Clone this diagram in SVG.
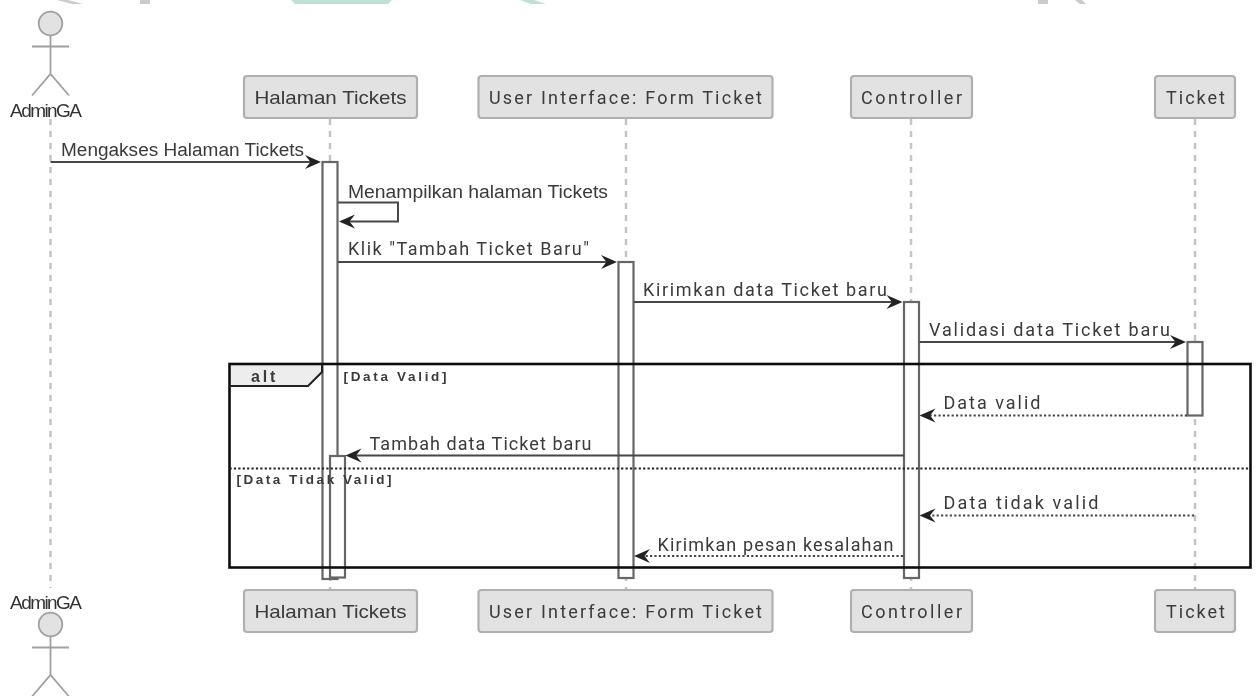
<svg xmlns="http://www.w3.org/2000/svg" width="1257" height="696" viewBox="0 0 1257 696">
<style>
text{font-family:"Liberation Sans",Arial,sans-serif;fill:#3a3a3a}
.box{fill:#e2e2e2;stroke:#b0b0b0;stroke-width:2.200}
.n{font-size:19px}
.s{font-family:Roboto,"Liberation Sans",sans-serif;font-size:18px}
.g{font-size:13.500px;font-weight:700}
.ll{stroke:#c4c4c4;stroke-width:2.500;stroke-dasharray:6 6;fill:none}
.act{fill:#fff;stroke:#666;stroke-width:2.200}
.a{stroke:#474747;stroke-width:2;fill:none}
.d{stroke-dasharray:2.200 2.200}
.ah{fill:#222;stroke:none}
.an{fill:#e2e2e2;stroke:#a0a0a0;stroke-width:1.800}
.st{fill:none;stroke:#a0a0a0;stroke-width:1.800}
.al{font-size:19px;fill:#333}
</style>
<defs>
<path id="r" class="ah" d="M0 0L-16 -7L-10.500 0L-16 7Z"/>
<path id="l" class="ah" d="M0 0L16 -7L10.500 0L16 7Z"/>
<filter id="soft" x="-2%" y="-2%" width="104%" height="104%"><feGaussianBlur stdDeviation="0.45"/></filter>
</defs>
<g id="watermark">
<polygon points="57,0 68,0 83,4 72,4" fill="#cbcbcb"/>
<rect x="140" y="0" width="10" height="4" fill="#cbcbcb"/>
<polygon points="291,0 392,0 388,4 295,4" fill="#bfe0d4"/>
<polygon points="520,0 534,0 546,4 531,4" fill="#bfe0d4"/>
<rect x="1038" y="0" width="10" height="4" fill="#cbcbcb"/>
<polygon points="1075,0 1082,0 1086,4 1080,4" fill="#cbcbcb"/>
</g>
<g filter="url(#soft)">
<g id="lifelines">
<line class="ll" x1="50.500" y1="119" x2="50.500" y2="588"/>
<line class="ll" x1="330" y1="119" x2="330" y2="590"/>
<line class="ll" x1="626" y1="119" x2="626" y2="590"/>
<line class="ll" x1="911" y1="119" x2="911" y2="590"/>
<line class="ll" x1="1195" y1="119" x2="1195" y2="590"/>
</g>
<g id="activations">
<rect id="act-halaman-1" class="act" x="322.500" y="162" width="15" height="417"/>
<rect id="act-halaman-2" class="act" x="330" y="456" width="15" height="121.500"/>
<rect id="act-form" class="act" x="618.500" y="262" width="15" height="316"/>
<rect id="act-controller" class="act" x="904" y="302" width="15" height="276"/>
<rect id="act-ticket" class="act" x="1187.500" y="342" width="15" height="73.500"/>
</g>
<g id="actor-top">
<circle class="an" cx="50.500" cy="23.500" r="11.800"/>
<path class="st" d="M50.500 35.500V74M32 46.500H69M32 95.500L50.500 74L69 95.500"/>
<text class="al" x="10" y="116.500" textLength="72">AdminGA</text>
</g>
<g id="actor-bottom">
<text class="al" x="10" y="609" textLength="72">AdminGA</text>
<circle class="an" cx="50.500" cy="624.500" r="11.800"/>
<path class="st" d="M50.500 636.500V675M32 647.500H69M32 696.500L50.500 675L69 696.500"/>
</g>
<g id="p-halaman-top"><rect class="box" x="244" y="76" width="173" height="42" rx="3"/><text class="n" x="254.500" y="104" textLength="152" lengthAdjust="spacingAndGlyphs">Halaman Tickets</text></g>
<g id="p-form-top"><rect class="box" x="478.500" y="76" width="294" height="42" rx="3"/><text class="s" x="489" y="104" textLength="273">User Interface: Form Ticket</text></g>
<g id="p-controller-top"><rect class="box" x="851" y="76" width="121" height="42" rx="3"/><text class="s" x="861" y="104" textLength="101">Controller</text></g>
<g id="p-ticket-top"><rect class="box" x="1155" y="76" width="80" height="42" rx="3"/><text class="s" x="1166" y="104" textLength="59">Ticket</text></g>
<g id="p-halaman-bottom"><rect class="box" x="244" y="590" width="173" height="42" rx="3"/><text class="n" x="254.500" y="618" textLength="152" lengthAdjust="spacingAndGlyphs">Halaman Tickets</text></g>
<g id="p-form-bottom"><rect class="box" x="478.500" y="590" width="294" height="42" rx="3"/><text class="s" x="489" y="618" textLength="273">User Interface: Form Ticket</text></g>
<g id="p-controller-bottom"><rect class="box" x="851" y="590" width="121" height="42" rx="3"/><text class="s" x="861" y="618" textLength="101">Controller</text></g>
<g id="p-ticket-bottom"><rect class="box" x="1155" y="590" width="80" height="42" rx="3"/><text class="s" x="1166" y="618" textLength="59">Ticket</text></g>
<g id="connectors">
<path class="a" d="M50.500 162H316"/><use href="#r" x="321" y="162"/>
<path class="a" d="M338 202.500H398V221.500H344"/><use href="#l" x="339" y="221.500"/>
<path class="a" d="M338 262H612"/><use href="#r" x="617" y="262"/>
<path class="a" d="M634 302H897"/><use href="#r" x="902.500" y="302"/>
<path class="a" d="M919.500 342H1181"/><use href="#r" x="1186" y="342"/>
<path class="a d" d="M1187 415.500H926"/><use href="#l" x="919.500" y="415.500"/>
<path class="a" d="M904 455.500H352"/><use href="#l" x="345.500" y="455.500"/>
<path class="a d" d="M1194 515.500H926"/><use href="#l" x="919.500" y="515.500"/>
<path class="a d" d="M903 556H640"/><use href="#l" x="634" y="556"/>
</g>
<g id="alt-frame">
<path d="M229.500 364H322V373L308 386H229.500Z" fill="#ededed" stroke="none"/>
<rect x="229.500" y="364" width="1021" height="203.500" fill="none" stroke="#111" stroke-width="2.600"/>
<path d="M229.500 386H308L322 372V364" fill="none" stroke="#222" stroke-width="2"/>
<line x1="229.500" y1="468.500" x2="1250" y2="468.500" stroke="#222" stroke-width="1.800" stroke-dasharray="2.200 2.200"/>
<text x="251" y="382" font-size="16" font-weight="700" letter-spacing="2.800">alt</text>
<text class="g" x="343.500" y="381" textLength="103">[Data Valid]</text>
<text class="g" x="236.500" y="484" textLength="155">[Data Tidak Valid]</text>
</g>
<g id="labels">
<text class="n" x="61" y="156" style="font-size:18px" textLength="243" lengthAdjust="spacingAndGlyphs">Mengakses Halaman Tickets</text>
<text class="n" x="348" y="198" style="font-size:18px" textLength="260" lengthAdjust="spacingAndGlyphs">Menampilkan halaman Tickets</text>
<text class="s" x="348" y="255" textLength="241">Klik "Tambah Ticket Baru"</text>
<text class="s" x="643" y="296" textLength="244">Kirimkan data Ticket baru</text>
<text class="s" x="929" y="336" textLength="241">Validasi data Ticket baru</text>
<text class="s" x="943.500" y="409" textLength="97">Data valid</text>
<text class="s" x="369.500" y="450" textLength="222">Tambah data Ticket baru</text>
<text class="s" x="943.500" y="509" textLength="155">Data tidak valid</text>
<text class="s" x="657.500" y="551" textLength="236">Kirimkan pesan kesalahan</text>
</g>
</g>
</svg>
